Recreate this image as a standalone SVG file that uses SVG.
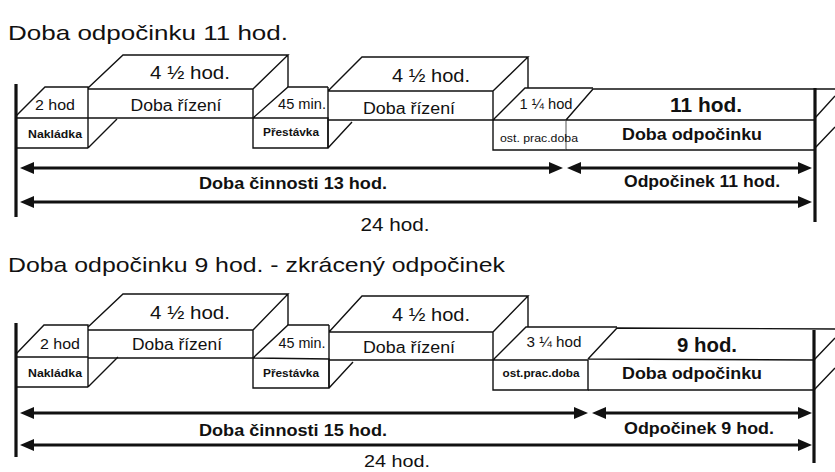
<svg xmlns="http://www.w3.org/2000/svg" width="835" height="472" viewBox="0 0 835 472">
  <style>
    .ln { stroke: #111; stroke-width: 1.4; fill: none; stroke-linejoin: miter; }
    .thin { stroke: #555; stroke-width: 1; fill: none; }
    .bar { stroke: #111; stroke-width: 3.2; fill: none; }
    .dim { stroke: #111; stroke-width: 3.2; fill: none; marker-start: url(#head); marker-end: url(#head); }
    text { font-family: "Liberation Sans", Arial, sans-serif; fill: #111; dominant-baseline: central; text-anchor: middle; }
    .title { text-anchor: start; font-size: 21px; }
    .b { font-weight: bold; }
  </style>
  <defs>
    <marker id="head" viewBox="0 0 14 12" refX="4" refY="6" markerWidth="14" markerHeight="12" markerUnits="userSpaceOnUse" orient="auto-start-reverse">
      <path d="M0,0 L14,6 L0,12 Z" fill="#111"/>
    </marker>
  </defs>
  <rect width="835" height="472" fill="#fff"/>

  <!-- ===== Day with 11 h rest ===== -->
  <text class="title" x="8" y="32" textLength="280" lengthAdjust="spacingAndGlyphs">Doba odpočinku 11 hod.</text>

  <g id="bars-a">
    <line class="bar" x1="16" y1="84" x2="16" y2="217"/>
    <line class="bar" x1="815" y1="88" x2="815" y2="222"/>
  </g>

  <g id="nakladka-a">
    <path class="ln" d="M16,116 L45,87 L88,87 L88,148 M16,118 L88,118 M16,148 L88,148 M88,148 L117,119"/>
    <text x="55" y="105" font-size="14.5" textLength="40" lengthAdjust="spacingAndGlyphs">2 hod</text>
    <text class="b" x="55" y="134" font-size="11" textLength="54" lengthAdjust="spacingAndGlyphs">Nakládka</text>
  </g>

  <g id="rizeni-a1">
    <path class="ln" d="M88,89 L253,89 L253,118 L88,118 M88,88 L123,55 L288,55 L253,89 M288,55 L288,87"/>
    <text x="190" y="72" font-size="18.5" textLength="80" lengthAdjust="spacingAndGlyphs">4 ½ hod.</text>
    <text x="176" y="105" font-size="16" textLength="91" lengthAdjust="spacingAndGlyphs">Doba řízení</text>
  </g>

  <g id="prestavka-a">
    <path class="ln" d="M253,118 L288,87 L328,87 M253,118 L253,148 L328,148 L328,118 L253,118 M328,148 L352,122"/>
    <text x="302" y="104" font-size="14.5" textLength="48" lengthAdjust="spacingAndGlyphs">45 min.</text>
    <text class="b" x="291" y="132" font-size="10.5" textLength="56" lengthAdjust="spacingAndGlyphs">Přestávka</text>
  </g>

  <g id="rizeni-a2">
    <path class="ln" d="M328,87 L328,148 M328,91 L493,91 L493,120 L328,120 M328,91 L362,57 L528,57 L493,91 M528,57 L528,88"/>
    <text x="431" y="75" font-size="18.5" textLength="78" lengthAdjust="spacingAndGlyphs">4 ½ hod.</text>
    <text x="409" y="108" font-size="16" textLength="92" lengthAdjust="spacingAndGlyphs">Doba řízení</text>
  </g>

  <g id="ostatni-a">
    <path class="ln" d="M493,120 L525,88 L593,88 M493,120 L493,150 L566,150 M493,120 L566,120"/>
    <line class="thin" x1="566" y1="120" x2="566" y2="150"/>
    <text x="546" y="104" font-size="14.5" textLength="53" lengthAdjust="spacingAndGlyphs">1 ¼ hod</text>
    <text x="539" y="138" font-size="11" textLength="78" lengthAdjust="spacingAndGlyphs">ost. prac.doba</text>
  </g>

  <g id="odpocinek-a">
    <path class="ln" d="M566,120 L593,89 L835,89 M566,120 L815,120 M566,150 L815,150 M815,118 L835,96 M815,148 L835,127"/>
    <text class="b" x="706" y="105" font-size="20" textLength="72" lengthAdjust="spacingAndGlyphs">11 hod.</text>
    <text class="b" x="692" y="134" font-size="16.5" textLength="140" lengthAdjust="spacingAndGlyphs">Doba odpočinku</text>
  </g>

  <!-- ===== Day with reduced 9 h rest ===== -->
  <text class="title" x="8" y="264" textLength="497" lengthAdjust="spacingAndGlyphs">Doba odpočinku 9 hod. - zkrácený odpočinek</text>

  <g id="bars-b">
    <line class="bar" x1="16" y1="323" x2="16" y2="457"/>
    <line class="bar" x1="814" y1="330" x2="814" y2="463"/>
  </g>

  <g id="nakladka-b">
    <path class="ln" d="M16,354 L44,325 L88,325 L88,387 M16,357 L88,357 M16,387 L88,387 M88,387 L118,357"/>
    <text x="60" y="344" font-size="14.5" textLength="40" lengthAdjust="spacingAndGlyphs">2 hod</text>
    <text class="b" x="55" y="373" font-size="11" textLength="54" lengthAdjust="spacingAndGlyphs">Nakládka</text>
  </g>

  <g id="rizeni-b1">
    <path class="ln" d="M88,330 L253,330 L253,358 L88,358 M88,327 L123,294 L288,294 L253,330 M288,294 L288,325"/>
    <text x="190" y="312" font-size="18.5" textLength="80" lengthAdjust="spacingAndGlyphs">4 ½ hod.</text>
    <text x="177" y="344" font-size="16" textLength="90" lengthAdjust="spacingAndGlyphs">Doba řízení</text>
  </g>

  <g id="prestavka-b">
    <path class="ln" d="M253,358 L288,325 L329,325 M253,358 L253,388 L329,388 L329,359 L253,358 M329,388 L353,362"/>
    <text x="302" y="343" font-size="14.5" textLength="47" lengthAdjust="spacingAndGlyphs">45 min.</text>
    <text class="b" x="291" y="373" font-size="10.5" textLength="56" lengthAdjust="spacingAndGlyphs">Přestávka</text>
  </g>

  <g id="rizeni-b2">
    <path class="ln" d="M329,325 L329,388 M329,332 L493,332 L493,360 L329,360 M329,332 L362,296 L528,296 L493,332 M528,296 L528,327"/>
    <text x="431" y="314" font-size="18.5" textLength="78" lengthAdjust="spacingAndGlyphs">4 ½ hod.</text>
    <text x="409" y="347" font-size="16" textLength="92" lengthAdjust="spacingAndGlyphs">Doba řízení</text>
  </g>

  <g id="ostatni-b">
    <path class="ln" d="M493,360 L526,327 L617,327 M493,360 L493,390 L588,390 L588,360 M493,360 L588,360"/>
    <text x="554" y="342" font-size="14.5" textLength="55" lengthAdjust="spacingAndGlyphs">3 ¼ hod</text>
    <text class="b" x="541" y="373" font-size="11" textLength="77" lengthAdjust="spacingAndGlyphs">ost.prac.doba</text>
  </g>

  <g id="odpocinek-b">
    <path class="ln" d="M588,359 L617,328 L835,329 M588,359 L814,360 M588,390 L814,390 M814,360 L835,338 M814,390 L835,368"/>
    <text class="b" x="707" y="345" font-size="20" textLength="60" lengthAdjust="spacingAndGlyphs">9 hod.</text>
    <text class="b" x="692" y="373" font-size="16.5" textLength="140" lengthAdjust="spacingAndGlyphs">Doba odpočinku</text>
  </g>

  <!-- ===== Duration arrows ===== -->
  <g id="connectors">
    <line class="dim" x1="30" y1="168" x2="553" y2="168"/>
    <line class="dim" x1="577" y1="168" x2="802" y2="168"/>
    <line class="dim" x1="30" y1="202" x2="802" y2="202"/>
    <line class="dim" x1="30" y1="413" x2="578" y2="413"/>
    <line class="dim" x1="602" y1="413" x2="802" y2="413"/>
    <line class="dim" x1="30" y1="445" x2="802" y2="445"/>
  </g>

  <g id="labels">
    <text class="b" x="293" y="183" font-size="16" textLength="188" lengthAdjust="spacingAndGlyphs">Doba činnosti 13 hod.</text>
    <text class="b" x="702" y="181" font-size="16" textLength="156" lengthAdjust="spacingAndGlyphs">Odpočinek 11 hod.</text>
    <text x="395" y="225" font-size="17.5" textLength="69" lengthAdjust="spacingAndGlyphs">24 hod.</text>
    <text class="b" x="293" y="430" font-size="16" textLength="188" lengthAdjust="spacingAndGlyphs">Doba činnosti 15 hod.</text>
    <text class="b" x="699" y="428" font-size="16" textLength="150" lengthAdjust="spacingAndGlyphs">Odpočinek 9 hod.</text>
    <text x="397" y="461" font-size="17" textLength="66" lengthAdjust="spacingAndGlyphs">24 hod.</text>
  </g>
</svg>
